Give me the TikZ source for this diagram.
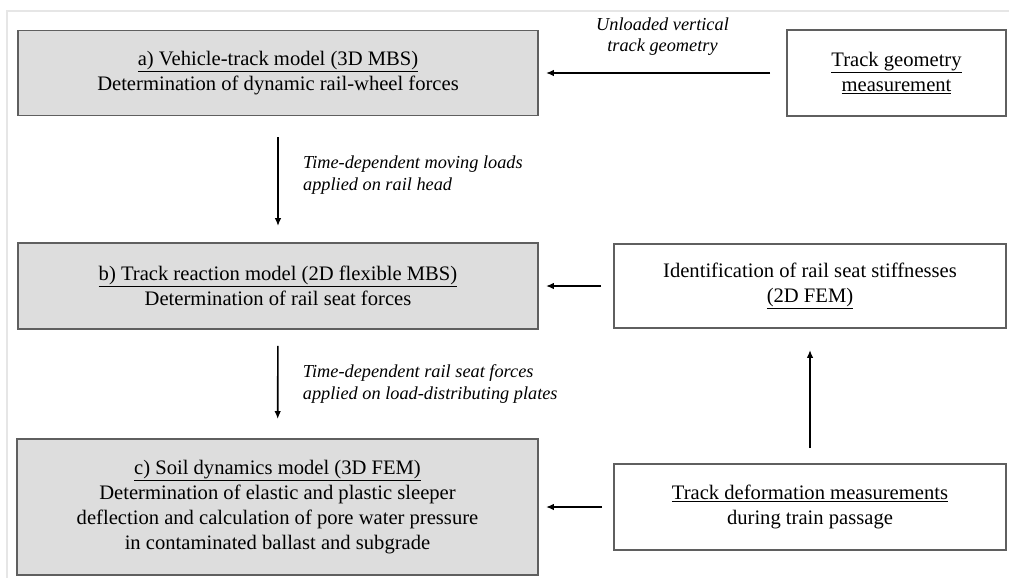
\documentclass[tikz,border=0pt]{standalone}
\usepackage{fontspec}
\setmainfont{Liberation Serif}
\usetikzlibrary{arrows.meta}

\definecolor{boxfill}{RGB}{221,221,221}
\definecolor{boxline}{RGB}{95,95,95}
\definecolor{framegray}{RGB}{230,230,230}

\tikzset{
  model/.style={draw=boxline, line width=1.8pt, fill=boxfill, align=center,
    inner sep=0pt, font=\fontsize{20.6}{25}\selectfont},
  meas/.style={model, fill=white},
  flow/.style={-{Latex[length=8pt,width=6.5pt]}, line width=1.6pt},
  lbl/.style={font=\fontsize{18.3}{21.5}\selectfont\itshape}
}

\begin{document}
\begin{tikzpicture}[x=1pt,y=-1pt]
  \useasboundingbox (0,0) rectangle (1009,578);
  \draw[framegray, line width=1.5pt] (7,578) -- (7,11) -- (1009,11);

  % models (left column)
  \node[model, minimum width=520pt, minimum height=85pt] (a) at (278,73)
    {\underline{a) Vehicle-track model (3D MBS)}\\
     Determination of dynamic rail-wheel forces};
  \node[model, minimum width=520pt, minimum height=86pt] (b) at (278,286)
    {\underline{b) Track reaction model (2D flexible MBS)}\\
     Determination of rail seat forces};
  \node[model, minimum width=521pt, minimum height=136pt] (c) at (277.5,507)
    {\underline{c) Soil dynamics model (3D FEM)}\\
     Determination of elastic and plastic sleeper\\
     deflection and calculation of pore water pressure\\
     in contaminated ballast and subgrade};

  % measurements (right column)
  \node[meas, minimum width=219pt, minimum height=86pt] (geo) at (896.5,73)
    {\underline{Track geometry}\\ \underline{measurement}};
  \node[meas, minimum width=392pt, minimum height=84pt] (stiff) at (810,286)
    {Identification of rail seat stiffnesses\\ \underline{(2D FEM)}};
  \node[meas, minimum width=392pt, minimum height=86pt] (defo) at (810,507)
    {\underline{Track deformation measurements}\\ during train passage};

  \draw[flow, shorten <=16pt, shorten >=7pt] (geo.west) -- (a.east)
    node[lbl, midway, above=13pt, align=center] {Unloaded vertical\\track geometry};
  \draw[flow, shorten <=21pt, shorten >=16pt] (a) -- (b)
    node[lbl, midway, right=21pt, yshift=4pt, align=left] {Time-dependent moving loads\\applied on rail head};
  \draw[flow, shorten <=16pt, shorten >=19pt] (b) -- (c)
    node[lbl, midway, right=21pt, align=left] {Time-dependent rail seat forces\\applied on load-distributing plates};
  \draw[flow, shorten <=12pt, shorten >=7pt] (stiff.west) -- (b.east);
  \draw[flow, shorten <=11pt, shorten >=7pt] (defo.west) -- (c.east);
  \draw[flow, shorten <=15pt, shorten >=21pt] (defo) -- (stiff);
\end{tikzpicture}
\end{document}
